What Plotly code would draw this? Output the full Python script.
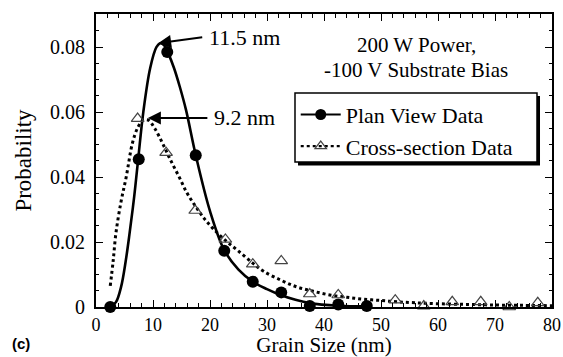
import plotly.graph_objects as go

# Measured data points
plan_x = [2.5, 7.5, 12.5, 17.5, 22.5, 27.5, 32.5, 37.5, 42.5, 47.5]
plan_y = [0.0, 0.0455, 0.0785, 0.0467, 0.0173, 0.0078, 0.0045, 0.0003, 0.0008, 0.0003]

cross_x = [7.3, 12.3, 17.4, 22.7, 27.5, 32.5, 37.5, 42.5, 52.5, 57.5, 62.5, 67.5, 72.5, 77.5]
cross_y = [0.058, 0.0475, 0.0297, 0.0208, 0.0132, 0.0142, 0.0040, 0.0037, 0.0021, 0.0003, 0.0016, 0.0016, 0.0, 0.0013]

# Fitted curves
plan_fit_x = [2.5, 3.5, 4.4, 5.2, 5.9, 6.7, 7.4, 8.3, 9.5, 10.6, 11.3, 12.0, 12.7, 13.7, 14.7, 15.8, 17.5, 20.0, 22.5, 25.0, 27.5, 30.0, 32.5, 35.0, 37.5, 42.5, 47.5]
plan_fit_y = [0.0, 0.0015, 0.0062, 0.014, 0.0228, 0.034, 0.0455, 0.060, 0.0735, 0.0800, 0.0812, 0.0805, 0.078, 0.0735, 0.0678, 0.0606, 0.0467, 0.0295, 0.0175, 0.0115, 0.0078, 0.0055, 0.0036, 0.0022, 0.0012, 0.0004, 0.0002]

cross_fit_x = [2.5, 3.0, 3.5, 4.4, 5.3, 6.4, 7.4, 8.3, 9.2, 10.3, 11.7, 13.0, 14.6, 16.0, 17.5, 19.0, 20.5, 22.7, 25.0, 27.5, 29.4, 32.5, 35.2, 38.0, 41.0, 44.0, 46.9, 50.0, 52.8, 56.0, 60.0, 65.0, 70.0, 75.0, 80.0]
cross_fit_y = [0.0065, 0.014, 0.0228, 0.0325, 0.040, 0.0505, 0.0555, 0.0575, 0.0575, 0.055, 0.0503, 0.0455, 0.040, 0.035, 0.0309, 0.0272, 0.0242, 0.0205, 0.0172, 0.0135, 0.0110, 0.0082, 0.0062, 0.0049, 0.0037, 0.0030, 0.0024, 0.0020, 0.0016, 0.0013, 0.0010, 0.0008, 0.0006, 0.0005, 0.0004]

x_ticks = [0, 10, 20, 30, 40, 50, 60, 70, 80]
y_ticks = [0, 0.02, 0.04, 0.06, 0.08]
y_tick_labels = ["0", "0.02", "0.04", "0.06", "0.08"]

FONT = "Liberation Serif"

fig = go.Figure()

fig.add_trace(go.Scatter(
    x=plan_fit_x, y=plan_fit_y, mode="lines", line=dict(color="black", width=2.6, shape="spline"),
    showlegend=False, hoverinfo="skip"))
fig.add_trace(go.Scatter(
    x=cross_fit_x, y=cross_fit_y, mode="lines", line=dict(color="black", width=3, dash="dot", shape="spline"),
    showlegend=False, hoverinfo="skip"))
fig.add_trace(go.Scatter(
    x=plan_x, y=plan_y, mode="markers", name="Plan View Data",
    marker=dict(symbol="circle", size=12, color="black"), showlegend=False, cliponaxis=False))
fig.add_trace(go.Scatter(
    x=cross_x, y=cross_y, mode="markers", name="Cross-section Data",
    marker=dict(symbol="triangle-up-open", size=11, color="#444", line=dict(width=1.2)),
    showlegend=False, cliponaxis=False))

# legend entries
fig.add_trace(go.Scatter(
    x=[None], y=[None], mode="lines+markers", name="Plan View Data",
    line=dict(color="black", width=2.2),
    marker=dict(symbol="circle", size=11, color="black")))
fig.add_trace(go.Scatter(
    x=[None], y=[None], mode="lines+markers", name="Cross-section Data",
    line=dict(color="black", width=2.2, dash="dot"),
    marker=dict(symbol="triangle-up-open", size=10, color="#444", line=dict(width=1.2))))

axis_common = dict(
    showline=True, linecolor="black", linewidth=2, mirror="ticks",
    ticks="inside", ticklen=7, tickwidth=1, tickcolor="black",
    showgrid=False, zeroline=False, automargin=False,
)

fig.update_xaxes(
    range=[0, 80], tickvals=x_ticks, ticklabelstandoff=0,
    tickfont=dict(family=FONT, size=18, color="black"),
    minor=dict(dtick=2, ticks="inside", ticklen=4, tickcolor="black", tickwidth=1),
    title=dict(text="Grain Size (nm)", font=dict(family=FONT, size=21, color="black"), standoff=0),
    **axis_common)
fig.update_yaxes(
    range=[0, 0.0902], tickvals=y_ticks, ticktext=y_tick_labels, ticklabelstandoff=5,
    tickfont=dict(family=FONT, size=20, color="black"),
    minor=dict(dtick=0.005, ticks="inside", ticklen=3, tickcolor="black", tickwidth=1),
    title=dict(text="Probability", font=dict(family=FONT, size=23, color="black"), standoff=12),
    **axis_common)

fig.update_layout(
    width=563, height=357,
    margin=dict(l=96, r=11, t=14, b=50),
    paper_bgcolor="white", plot_bgcolor="white",
    font=dict(family=FONT, size=20, color="black"),
    legend=dict(
        x=0.438, y=0.728, xanchor="left", yanchor="top",
        bgcolor="rgba(0,0,0,0)", borderwidth=0,
        font=dict(family=FONT, size=22, color="black"),
        itemwidth=40, tracegroupgap=0,
    ),
)

# legend box with drop shadow
fig.add_shape(type="rect", xref="paper", yref="paper",
              x0=0.443, x1=0.9737, y0=0.483, y1=0.720,
              fillcolor="black", line=dict(width=0), layer="below")
fig.add_shape(type="rect", xref="paper", yref="paper",
              x0=0.4364, x1=0.9671, y0=0.4949, y1=0.7304,
              fillcolor="white", line=dict(color="black", width=1.5), layer="below")

# text annotations
fig.add_annotation(x=0.702, y=0.894, xref="paper", yref="paper", text="200 W Power,",
                   showarrow=False, xanchor="center", yanchor="middle",
                   font=dict(family=FONT, size=21, color="black"))
fig.add_annotation(x=0.702, y=0.809, xref="paper", yref="paper", text="-100 V Substrate Bias",
                   showarrow=False, xanchor="center", yanchor="middle",
                   font=dict(family=FONT, size=21, color="black"))

fig.add_annotation(x=10.9, y=0.0812, ax=18.9, ay=0.0831, axref="x", ayref="y",
                   xref="x", yref="y", text="", showarrow=True, arrowhead=2, arrowsize=1.3,
                   arrowwidth=2, arrowcolor="black")
fig.add_annotation(x=19.4, y=0.0831, xref="x", yref="y", text="11.5 nm", showarrow=False,
                   xanchor="left", yanchor="middle", font=dict(family=FONT, size=22, color="black"))

fig.add_annotation(x=20.4, y=0.0582, xref="x", yref="y", text="9.2 nm", showarrow=False,
                   xanchor="left", yanchor="middle", font=dict(family=FONT, size=22, color="black"))
fig.add_annotation(x=9.1, y=0.0582, ax=19.8, ay=0.0582, axref="x", ayref="y",
                   xref="x", yref="y", text="", showarrow=True, arrowhead=2, arrowsize=1.3,
                   arrowwidth=2, arrowcolor="black")

fig.add_annotation(x=-0.189, y=-0.123, xref="paper", yref="paper", text="<b>(c)</b>",
                   showarrow=False, xanchor="left", yanchor="middle",
                   font=dict(family="Liberation Sans", size=15, color="black"))

fig.write_html("out.html")
